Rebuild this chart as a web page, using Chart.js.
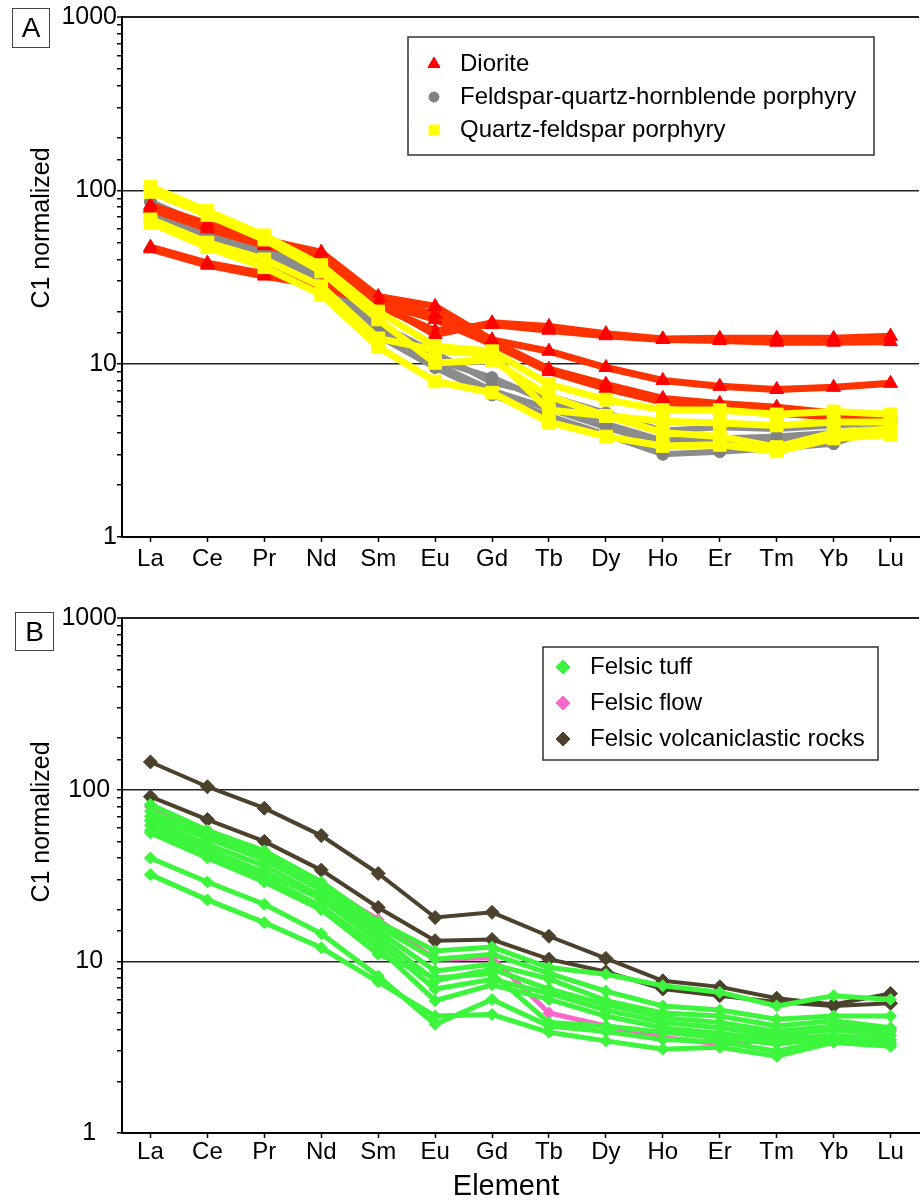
<!DOCTYPE html>
<html>
<head>
<meta charset="utf-8">
<style>
  body { margin: 0; background: #fff; font-family: "Liberation Sans", Arial, sans-serif; }
  .wrap { position: relative; width: 920px; height: 1203px; overflow: hidden; }
  canvas { position: absolute; left: 0; }
  .panel { position: absolute; border: 1px solid #444; font-size: 28px; text-align: center; color: #000; box-sizing: border-box; }
  .ytitle { position: absolute; width: 300px; height: 30px; line-height: 30px; font-size: 25px; text-align: center; transform: rotate(-90deg); }
  .xtitle { position: absolute; width: 300px; text-align: center; font-size: 29px; }
</style>
</head>
<body>
<div class="wrap">
  <canvas id="chartA" width="920" height="575" style="top:0"></canvas>
  <canvas id="chartB" width="920" height="603" style="top:600px"></canvas>
  <div class="panel" style="left:12px;top:8px;width:38px;height:40px;line-height:38px">A</div>
  <div class="panel" style="left:15px;top:612px;width:39px;height:39px;line-height:37px">B</div>
  <div class="ytitle" style="left:-110px;top:213px">C1 normalized</div>
  <div class="ytitle" style="left:-110px;top:807px">C1 normalized</div>
  <div class="xtitle" style="left:356px;top:1169px">Element</div>
</div>
<script src="https://cdn.jsdelivr.net/npm/chart.js"></script>
<script>
// element order on the x axis
var elements = ['La', 'Ce', 'Pr', 'Nd', 'Sm', 'Eu', 'Gd', 'Tb', 'Dy', 'Ho', 'Er', 'Tm', 'Yb', 'Lu'];
var yTicks = [1, 10, 100, 1000];

// panel A
var diorite = [
  [47, 38, 33, 29, 22.5, 14.7, 17.2, 16.4, 14.9, 13.9, 14.0, 14.0, 14.0, 14.4],
  [46, 37, 32, 28, 21.5, 15.5, 16.8, 15.6, 14.5, 13.8, 13.6, 13.3, 13.3, 13.4],
  [82, 64, 52, 44, 24.4, 21.4, 13.7, 11.8, 9.5, 8.0, 7.4, 7.1, 7.3, 7.7],
  [80, 62, 50, 43, 23.4, 19.2, 13.5, 9.3, 7.6, 6.3, 5.9, 5.6, 5.2, 5.0],
  [78, 60, 48, 41, 22.5, 18.0, 13.0, 9.0, 7.2, 6.0, 5.6, 5.2, 4.9, 4.8]
];
var fqhPorphyry = [
  [72, 54, 40, 29, 14.5, 9.5, 6.6, 5.0, 3.9, 3.0, 3.1, 3.25, 3.45, 4.5],
  [76, 57, 43, 31, 16, 10.5, 8.3, 6.0, 4.5, 3.6, 3.7, 3.8, 4.0, 4.3],
  [86, 62, 46, 33, 17, 11.5, 7.8, 6.5, 5.2, 4.1, 4.3, 4.2, 4.4, 4.6],
  [66, 50, 38, 27, 15, 10, 7, 5.5, 4.3, 3.4, 3.5, 3.6, 3.8, 4.2]
];
var qfPorphyry = [
  [105, 76, 55, 37, 20, 12.6, 11.8, 7.6, 6.2, 5.4, 5.4, 5.1, 5.3, 5.1],
  [98, 72, 52, 34, 18, 10.1, 10.5, 6.5, 5.0, 4.65, 4.55, 4.4, 4.6, 4.6],
  [68, 50, 40, 28, 14, 12.0, 11.2, 5.4, 5.0, 4.0, 3.8, 3.3, 4.0, 4.2],
  [65, 47, 36, 25, 12.5, 7.9, 6.8, 4.6, 3.8, 3.35, 3.4, 3.12, 3.7, 3.9]
];

// panel B
var felsicTuff = [
  [82, 58, 44, 29, 17, 11.5, 12.1, 9.2, 8.4, 7.2, 6.6, 5.5, 6.3, 6.0],
  [75, 55, 41, 27, 16, 10.3, 11, 8.5, 6.7, 5.5, 5.2, 4.6, 4.8, 4.8],
  [70, 52, 39, 26, 15, 8.8, 9.6, 7.9, 5.9, 5.0, 4.8, 4.2, 4.5, 4.1],
  [66, 48, 36, 24, 14, 7.7, 9.0, 6.9, 5.6, 4.7, 4.4, 3.9, 4.2, 3.9],
  [62, 45, 33, 23, 13, 6.9, 7.86, 6.5, 5.2, 4.4, 4.1, 3.7, 4.0, 3.7],
  [58, 42, 31, 21, 12, 5.9, 7.3, 6.0, 4.8, 4.1, 3.8, 3.5, 3.7, 3.5],
  [56, 40, 29, 20, 11, 8.0, 8.5, 4.4, 4.2, 3.86, 3.6, 3.3, 3.6, 3.4],
  [40, 29, 21.5, 14.5, 8.2, 4.3, 6.0, 4.2, 3.9, 3.5, 3.4, 3.0, 3.5, 3.3],
  [32, 22.8, 16.8, 12, 7.6, 4.8, 4.9, 3.86, 3.44, 3.08, 3.16, 2.8, 3.37, 3.2]
];
var felsicFlow = [
  [80, 57, 43, 28, 17.5, 10.3, 10.5, 5.0, 4.2, 3.6, 3.3, 3.5, 4.2, 4.0]
];
var volcaniclastic = [
  [145, 104, 78, 54, 32.5, 18, 19.3, 14, 10.4, 7.7, 7.1, 6.1, 5.6, 6.5],
  [91, 67, 50, 34, 20.6, 13.2, 13.4, 10.3, 8.7, 6.9, 6.3, 5.8, 5.5, 5.7]
];

function group(samples, line, point, style, radius, width) {
  return samples.map(function (s) {
    return {
      data: s,
      borderColor: line,
      backgroundColor: point,
      pointBackgroundColor: point,
      pointBorderColor: point,
      pointStyle: style,
      pointRadius: radius,
      pointBorderWidth: 1,
      borderWidth: width,
      tension: 0
    };
  });
}

function legendPlugin(cfg) {
  return {
    id: 'boxLegend',
    afterDraw: function (chart) {
      var ctx = chart.ctx;
      ctx.save();
      ctx.strokeStyle = '#333';
      ctx.lineWidth = 1.5;
      ctx.strokeRect(cfg.x, cfg.y, cfg.w, cfg.h);
      ctx.font = '24px "Liberation Sans", Arial, sans-serif';
      ctx.textBaseline = 'middle';
      cfg.items.forEach(function (it, i) {
        var y = cfg.y + cfg.first + i * cfg.step;
        ctx.fillStyle = it.color;
        ctx.strokeStyle = it.color;
        ctx.lineWidth = 1;
        Chart.helpers.drawPoint(ctx, { pointStyle: it.style, radius: it.radius, borderWidth: 1, rotation: 0 }, cfg.x + cfg.mx, y);
        ctx.fillStyle = '#000';
        ctx.fillText(it.label, cfg.x + cfg.tx, y);
      });
      ctx.restore();
    }
  };
}

function isDecade(v) { return yTicks.indexOf(v) >= 0; }

function makeOptions(padTop, xHeight, yAlign, xPad) {
  return {
    responsive: false,
    animation: false,
    layout: { autoPadding: false, padding: { top: padTop, right: 1, left: 0, bottom: 0 } },
    plugins: { legend: { display: false }, tooltip: { enabled: false } },
    scales: {
      x: {
        type: 'category',
        offset: true,
        grid: { drawOnChartArea: false, drawTicks: true, tickLength: 5, tickColor: '#000', tickWidth: 1.5, offset: false },
        border: { color: '#000', width: 2 },
        ticks: { color: '#000', font: { size: 24, family: '"Liberation Sans", Arial' }, padding: xPad, maxRotation: 0, autoSkip: false },
        afterFit: function (s) {
          s.height = xHeight;
          s.paddingLeft = 0;
          s.paddingRight = 0;
        }
      },
      y: {
        type: 'logarithmic',
        min: 1,
        max: 1000,
        grid: {
          color: function (c) { return c.tick && isDecade(c.tick.value) ? '#222' : 'rgba(0,0,0,0)'; },
          lineWidth: function (c) { return c.tick && c.tick.value === 1000 ? 2 : 1.5; },
          drawTicks: true, tickLength: 5, tickColor: '#000', tickWidth: 1.5
        },
        border: { color: '#000', width: 2 },
        ticks: {
          color: '#000',
          autoSkip: false,
          padding: 0,
          crossAlign: yAlign,
          font: { size: 25, family: '"Liberation Sans", Arial' },
          callback: function (v) { return isDecade(v) ? String(v) : ''; }
        },
        afterFit: function (s) { s.width = 122; }
      }
    }
  };
}

new Chart(document.getElementById('chartA'), {
  type: 'line',
  data: {
    labels: elements,
    datasets: [].concat(
      group(qfPorphyry, '#ffff00', '#ffff00', 'rect', 9, 7),
      group(diorite, '#ff3300', '#ff0000', 'triangle', 8, 7),
      group(fqhPorphyry, '#8c8c8c', '#808080', 'circle', 6, 6)
    )
  },
  options: makeOptions(17, 38, 'near', 3),
  plugins: [legendPlugin({
    x: 408, y: 37, w: 466, h: 118, first: 27, step: 33, mx: 26, tx: 52,
    items: [
      { label: 'Diorite', color: '#ff0000', style: 'triangle', radius: 7 },
      { label: 'Feldspar-quartz-hornblende porphyry', color: '#808080', style: 'circle', radius: 5 },
      { label: 'Quartz-feldspar porphyry', color: '#ffff00', style: 'rect', radius: 7 }
    ]
  })]
});

new Chart(document.getElementById('chartB'), {
  type: 'line',
  data: {
    labels: elements,
    datasets: [].concat(
      group(felsicTuff, '#3cf53c', '#3cf53c', 'rectRot', 6, 5),
      group(felsicFlow, '#ff66cc', '#ff66cc', 'rectRot', 6, 5),
      group(volcaniclastic, '#4b412c', '#4b412c', 'rectRot', 7, 4)
    )
  },
  options: makeOptions(18, 70, 'center', 0),
  plugins: [legendPlugin({
    x: 543, y: 47, w: 335, h: 113, first: 20, step: 36, mx: 20, tx: 47,
    items: [
      { label: 'Felsic tuff', color: '#3cf53c', style: 'rectRot', radius: 7 },
      { label: 'Felsic flow', color: '#ff66cc', style: 'rectRot', radius: 7 },
      { label: 'Felsic volcaniclastic rocks', color: '#4b412c', style: 'rectRot', radius: 7 }
    ]
  })]
});
</script>
</body>
</html>
